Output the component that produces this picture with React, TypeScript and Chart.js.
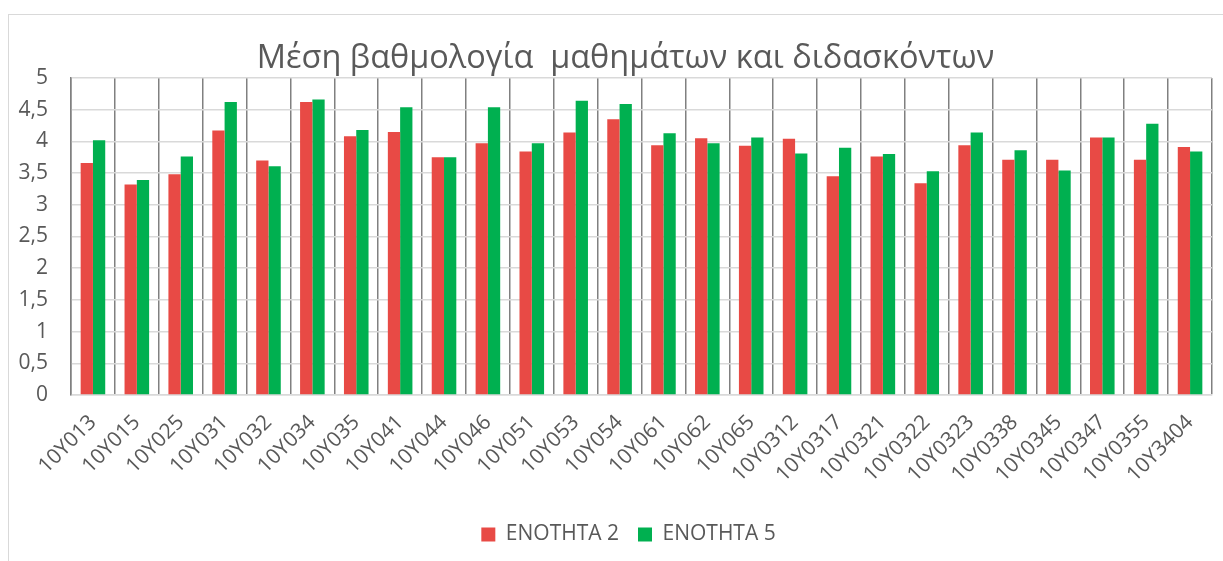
import React, { useEffect, useRef } from 'react';
import { Chart, registerables } from 'chart.js';

Chart.register(...registerables);

const chartTitle = 'Μέση βαθμολογία  μαθημάτων και διδασκόντων';

const categories = [
  '10Y013', '10Y015', '10Y025', '10Y031', '10Y032', '10Y034', '10Y035', '10Y041',
  '10Y044', '10Y046', '10Y051', '10Y053', '10Y054', '10Y061', '10Y062', '10Y065',
  '10Y0312', '10Y0317', '10Y0321', '10Y0322', '10Y0323', '10Y0338', '10Y0345',
  '10Y0347', '10Y0355', '10Y3404',
];

const seriesNames = ['ΕΝΟΤΗΤΑ 2', 'ΕΝΟΤΗΤΑ 5'];

const enotita2 = [
  3.66, 3.32, 3.48, 4.17, 3.70, 4.62, 4.08, 4.15,
  3.75, 3.97, 3.84, 4.14, 4.35, 3.94, 4.05, 3.93,
  4.04, 3.45, 3.76, 3.34, 3.94, 3.71, 3.71,
  4.06, 3.71, 3.91,
];

const enotita5 = [
  4.02, 3.39, 3.76, 4.62, 3.61, 4.66, 4.18, 4.54,
  3.75, 4.54, 3.97, 4.64, 4.59, 4.13, 3.97, 4.06,
  3.81, 3.90, 3.80, 3.53, 4.14, 3.86, 3.54,
  4.06, 4.28, 3.84,
];

const yMin = 0;
const yMax = 5;
const yStep = 0.5;

const FONT = '"Open Sans", "Noto Sans", sans-serif';
const TEXT = '#595959';

// Shift title and legend horizontally so they centre on the (wider) original chart frame
const centerShift = {
  id: 'centerShift',
  afterLayout(chart: any) {
    const t = chart.titleBlock;
    if (t) {
      t.left += 15;
      t.right += 15;
    }
    const l = chart.legend;
    if (l) {
      l.left += 18;
      l.right += 18;
    }
  },
};

export default function App() {
  const ref = useRef<HTMLCanvasElement | null>(null);

  useEffect(() => {
    if (!ref.current) return;
    const chart = new Chart(ref.current, {
      type: 'bar',
      data: {
        labels: categories,
        datasets: [
          {
            label: seriesNames[0],
            data: enotita2,
            backgroundColor: '#E84A45',
            borderWidth: 0,
            categoryPercentage: 0.56,
            barPercentage: 1.0,
          },
          {
            label: seriesNames[1],
            data: enotita5,
            backgroundColor: '#00B050',
            borderWidth: 0,
            categoryPercentage: 0.56,
            barPercentage: 1.0,
          },
        ],
      },
      plugins: [centerShift],
      options: {
        animation: false,
        responsive: false,
        maintainAspectRatio: false,
        layout: { padding: { left: 0, right: 33, top: 0, bottom: 6 } },
        plugins: {
          title: {
            display: true,
            text: chartTitle,
            color: TEXT,
            font: { family: FONT, size: 32.5, weight: 'normal', lineHeight: 1.2 },
            padding: { top: 39, bottom: 0 },
          },
          legend: {
            display: true,
            position: 'bottom',
            labels: {
              color: TEXT,
              font: { family: FONT, size: 21 },
              boxWidth: 14,
              boxHeight: 14,
              padding: 19,
            },
          },
          tooltip: { enabled: false },
        },
        scales: {
          x: {
            grid: {
              display: true,
              offset: true,
              color: '#808080',
              lineWidth: 1.5,
              drawTicks: false,
            },
            border: { display: true, color: '#d9d9d9', width: 1.5 },
            ticks: {
              color: TEXT,
              font: { family: FONT, size: 21 },
              minRotation: 45,
              maxRotation: 45,
              autoSkip: false,
              padding: 15,
            },
            afterFit: (scale: any) => {
              scale.height = 110;
            },
          },
          y: {
            min: yMin,
            max: yMax,
            grid: {
              color: '#d9d9d9',
              lineWidth: 1.5,
              drawTicks: false,
            },
            border: { display: true, color: '#808080', width: 1.5 },
            ticks: {
              stepSize: yStep,
              color: TEXT,
              font: { family: FONT, size: 21 },
              padding: 23,
              callback: (v: any) => String(v).replace('.', ','),
            },
            afterFit: (scale: any) => {
              scale.width = 62;
            },
          },
        },
      },
    });
    return () => chart.destroy();
  }, []);

  return (
    <div
      style={{
        position: 'fixed',
        left: 0,
        top: 0,
        width: 1223,
        height: 561,
        overflow: 'hidden',
        background: '#ffffff',
      }}
    >
      <div
        style={{
          position: 'absolute',
          left: 8,
          top: 14,
          width: 1300,
          height: 700,
          border: '1.5px solid #d9d9d9',
          boxSizing: 'border-box',
        }}
      />
      <canvas
        ref={ref}
        width={1236}
        height={561}
        style={{ position: 'absolute', left: 9, top: 0, width: 1236, height: 561 }}
      />
    </div>
  );
}
